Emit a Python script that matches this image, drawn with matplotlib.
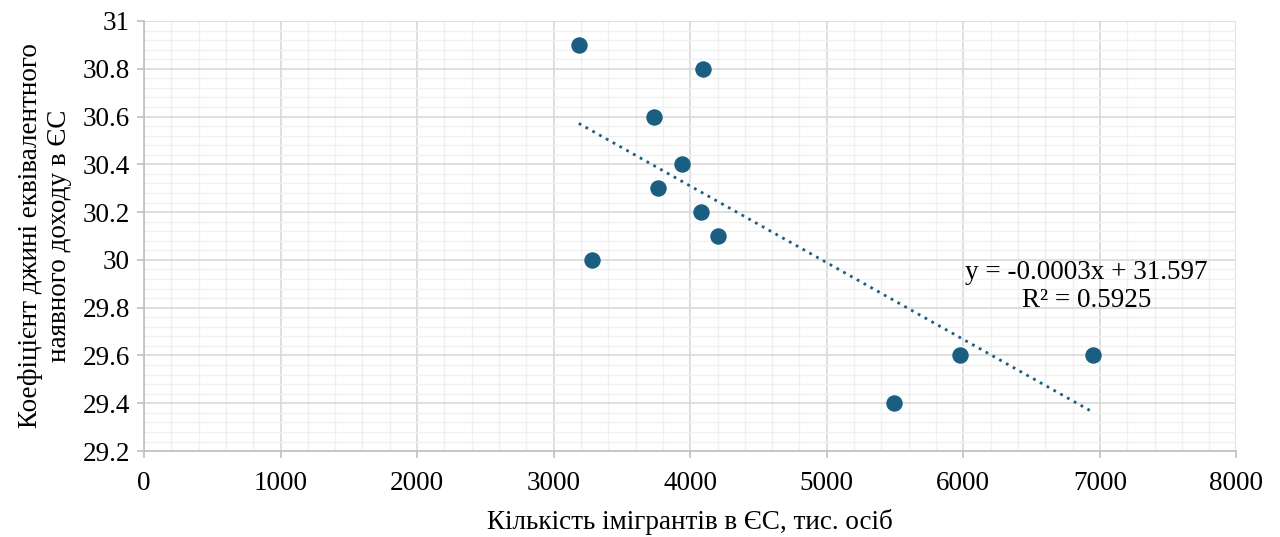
import numpy as np
import matplotlib.pyplot as plt
from matplotlib.ticker import MultipleLocator

# values
immigrants = [3184, 4092, 3733, 3939, 3763, 4078, 4202, 3280, 5490, 5974, 6947]
gini = [30.9, 30.8, 30.6, 30.4, 30.3, 30.2, 30.1, 30.0, 29.4, 29.6, 29.6]

plt.rcParams['font.family'] = ['Liberation Serif', 'DejaVu Serif']
fs = 19.5

color = '#1a5f82'

fig = plt.figure(figsize=(12.8, 5.37), dpi=100)
ax = fig.add_axes([0.1125, 0.16, 0.8535, 0.801])

x = np.array(immigrants, dtype=float)
y = np.array(gini)
ax.scatter(x, y, s=140, color=color, zorder=3, linewidths=0)

k, b = np.polyfit(x, y, 1)
xs = np.linspace(x.min(), x.max(), 50)
ax.plot(xs, k * xs + b, color=color, lw=2, ls=(0, (1, 1.8)), zorder=2)

ax.text(6900, 29.948, 'y = -0.0003x + 31.597', ha='center', va='center', fontsize=fs)
ax.text(6900, 29.832, 'R² = 0.5925', ha='center', va='center', fontsize=fs)

ax.set_xlim(0, 8000)
ax.set_ylim(29.2, 31)
ax.xaxis.set_major_locator(MultipleLocator(1000))
ax.xaxis.set_minor_locator(MultipleLocator(200))
ax.yaxis.set_major_locator(MultipleLocator(0.2))
ax.yaxis.set_minor_locator(MultipleLocator(0.04))
ax.yaxis.set_major_formatter(plt.FuncFormatter(lambda v, p: f'{v:g}'))

ax.grid(which='major', color='#d9d9d9', lw=1.2)
ax.grid(which='minor', color='#f0f0f0', lw=1)
ax.set_axisbelow(True)

for s in ['top', 'right']:
    ax.spines[s].set_visible(False)
for s in ['left', 'bottom']:
    ax.spines[s].set_color('#bfbfbf')
    ax.spines[s].set_linewidth(1.2)

ax.tick_params(which='major', length=5, color='#bfbfbf', width=1.2, labelsize=fs)
ax.tick_params(axis='x', pad=9)
ax.tick_params(axis='y', pad=5)
ax.tick_params(which='minor', length=0)

ax.set_xlabel('Кількість імігрантів в ЄС, тис. осіб', fontsize=fs, labelpad=10)
ax.set_ylabel('Коефіцієнт джині еквівалентного\nнаявного доходу в ЄС', fontsize=fs, labelpad=8)

fig.savefig('out.png', dpi=100)
